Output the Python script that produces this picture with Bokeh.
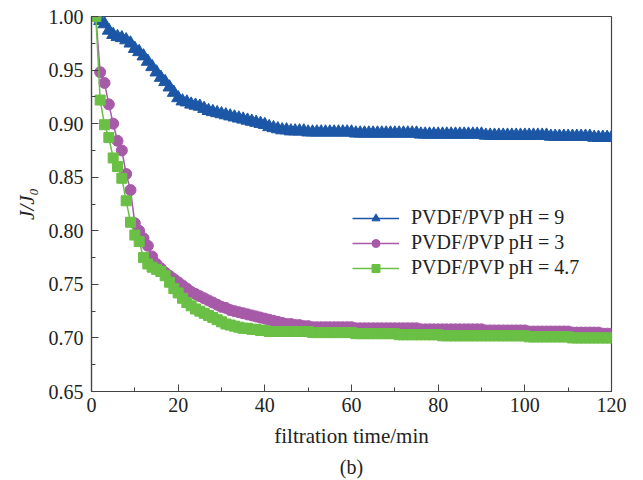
from bokeh.plotting import figure
from bokeh.models import Legend, LegendItem, SingleIntervalTicker, PrintfTickFormatter, Title
from bokeh.embed import file_html
from bokeh.resources import INLINE

t = list(range(1, 121))

ph9 = [1.000, 0.996, 0.993, 0.987, 0.983, 0.981, 0.980, 0.978, 0.975, 0.970,
       0.967, 0.963, 0.958, 0.953, 0.948, 0.943, 0.939, 0.934, 0.929, 0.924,
       0.921, 0.920, 0.918, 0.917, 0.916, 0.914, 0.912, 0.911, 0.910, 0.909,
       0.908, 0.907, 0.906, 0.905, 0.904, 0.903, 0.902, 0.901, 0.900, 0.899,
       0.897, 0.896, 0.895, 0.894, 0.894, 0.893, 0.893, 0.893, 0.893, 0.892,
       0.892, 0.892, 0.892, 0.892, 0.892, 0.892, 0.892, 0.892, 0.892, 0.892,
       0.891, 0.891, 0.891, 0.891, 0.891, 0.891, 0.891, 0.891, 0.891, 0.891,
       0.891, 0.891, 0.891, 0.891, 0.891, 0.890, 0.890, 0.890, 0.890, 0.890,
       0.890, 0.890, 0.890, 0.890, 0.890, 0.890, 0.890, 0.890, 0.890, 0.890,
       0.889, 0.889, 0.889, 0.889, 0.889, 0.889, 0.889, 0.889, 0.889, 0.889,
       0.889, 0.889, 0.889, 0.889, 0.889, 0.888, 0.888, 0.888, 0.888, 0.888,
       0.888, 0.888, 0.888, 0.888, 0.888, 0.887, 0.887, 0.887, 0.887, 0.887]

ph3 = [1.000, 0.948, 0.938, 0.918, 0.900, 0.884, 0.875, 0.853, 0.838, 0.807,
       0.800, 0.793, 0.786, 0.776, 0.769, 0.765, 0.761, 0.758, 0.755, 0.752,
       0.749, 0.746, 0.743, 0.741, 0.739, 0.737, 0.735, 0.733, 0.731, 0.729,
       0.728, 0.726, 0.725, 0.724, 0.723, 0.722, 0.721, 0.720, 0.719, 0.718,
       0.717, 0.716, 0.715, 0.714, 0.713, 0.713, 0.712, 0.712, 0.711, 0.711,
       0.710, 0.710, 0.710, 0.710, 0.710, 0.710, 0.710, 0.710, 0.710, 0.710,
       0.709, 0.709, 0.709, 0.709, 0.709, 0.709, 0.709, 0.709, 0.709, 0.709,
       0.709, 0.709, 0.709, 0.709, 0.709, 0.708, 0.708, 0.708, 0.708, 0.708,
       0.708, 0.708, 0.708, 0.708, 0.708, 0.708, 0.708, 0.708, 0.708, 0.708,
       0.707, 0.707, 0.707, 0.707, 0.707, 0.707, 0.707, 0.707, 0.707, 0.707,
       0.706, 0.706, 0.706, 0.706, 0.706, 0.706, 0.706, 0.706, 0.706, 0.706,
       0.705, 0.705, 0.705, 0.705, 0.705, 0.705, 0.705, 0.704, 0.704, 0.704]

ph47 = [1.000, 0.922, 0.899, 0.887, 0.868, 0.860, 0.849, 0.828, 0.808, 0.796,
        0.790, 0.775, 0.769, 0.766, 0.764, 0.762, 0.758, 0.752, 0.746, 0.742,
        0.737, 0.733, 0.730, 0.727, 0.725, 0.723, 0.721, 0.719, 0.717, 0.715,
        0.713, 0.712, 0.711, 0.710, 0.709, 0.709, 0.708, 0.708, 0.707, 0.707,
        0.706, 0.706, 0.706, 0.706, 0.706, 0.706, 0.706, 0.706, 0.706, 0.706,
        0.705, 0.705, 0.705, 0.705, 0.705, 0.705, 0.705, 0.705, 0.705, 0.705,
        0.704, 0.704, 0.704, 0.704, 0.704, 0.704, 0.704, 0.704, 0.704, 0.704,
        0.703, 0.703, 0.703, 0.703, 0.703, 0.703, 0.703, 0.703, 0.703, 0.703,
        0.702, 0.702, 0.702, 0.702, 0.702, 0.702, 0.702, 0.702, 0.702, 0.702,
        0.702, 0.702, 0.702, 0.702, 0.702, 0.702, 0.702, 0.702, 0.702, 0.702,
        0.701, 0.701, 0.701, 0.701, 0.701, 0.701, 0.701, 0.701, 0.701, 0.701,
        0.700, 0.700, 0.700, 0.700, 0.700, 0.700, 0.700, 0.700, 0.700, 0.700]

labels = ["PVDF/PVP pH = 9", "PVDF/PVP pH = 3", "PVDF/PVP pH = 4.7"]
colors = ["#1c56a6", "#a65aa8", "#6abf45"]

FONT = "Liberation Serif"
TXT = "#222222"
AX = "#444444"

p = figure(frame_width=520, frame_height=375, x_range=(0, 120), y_range=(0.65, 1.0),
           output_backend="svg", toolbar_location=None,
           min_border_left=91, min_border_right=16, min_border_top=16, min_border_bottom=0)
p.grid.visible = False
p.outline_line_color = AX
p.outline_line_width = 1.2
p.background_fill_color = "white"
p.border_fill_color = "white"

p.xaxis.ticker = SingleIntervalTicker(interval=20, num_minor_ticks=2)
p.yaxis.ticker = SingleIntervalTicker(interval=0.05, num_minor_ticks=2)
p.yaxis.formatter = PrintfTickFormatter(format="%.2f")

for ax in (p.xaxis[0], p.yaxis[0]):
    ax.major_tick_in = 7
    ax.major_tick_out = 0
    ax.minor_tick_in = 4
    ax.minor_tick_out = 0
    ax.axis_line_color = AX
    ax.axis_line_width = 1.2
    ax.major_tick_line_color = AX
    ax.minor_tick_line_color = AX
    ax.major_label_text_font = FONT
    ax.major_label_text_font_size = "20px"
    ax.major_label_text_color = TXT
    ax.axis_label_text_font = FONT
    ax.axis_label_text_font_size = "21px"
    ax.axis_label_text_color = TXT
    ax.axis_label_text_font_style = "normal"

p.xaxis.major_label_standoff = 6
p.yaxis.major_label_standoff = 8
p.xaxis.axis_label = "filtration time/min"
p.xaxis.axis_label_standoff = 9
p.yaxis.axis_label = "J/J\u2080"
p.yaxis.axis_label_text_font_style = "italic"
p.yaxis.axis_label_standoff = 7

series = [(ph9, "triangle", 13), (ph3, "circle", 11), (ph47, "square", 10)]
items = []
for (vals, marker, size), lab, col in zip(series, labels, colors):
    ln = p.line(t, vals, line_color=col, line_width=1.5)
    sc = p.scatter(t, vals, marker=marker, size=size, fill_color=col, line_color=col)
    items.append(LegendItem(label=lab, renderers=[ln, sc]))

legend = Legend(items=items, location=(261, 112), glyph_width=47, glyph_height=20,
                label_height=20, spacing=2, label_standoff=12, padding=0, margin=0,
                border_line_alpha=0, background_fill_alpha=0,
                label_text_font=FONT, label_text_font_size="20px", label_text_color=TXT)
p.add_layout(legend)

p.add_layout(Title(text="(b)", align="center", text_font=FONT, text_font_size="20px",
                   text_font_style="normal", text_color=TXT, standoff=6), "below")

open("out.html", "w").write(file_html(p, INLINE))
